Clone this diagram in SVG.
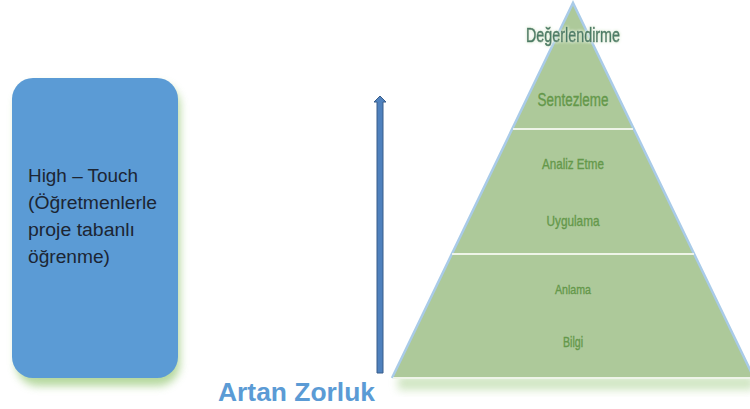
<svg xmlns="http://www.w3.org/2000/svg" width="750" height="409" viewBox="0 0 750 409">
  <defs>
    <style>
      .lvl { font-family: "Liberation Sans", Arial, sans-serif; fill: #64984a; stroke: #64984a; stroke-width: 0.35; text-anchor: middle; }
      .box-text { font-family: "Liberation Sans", Arial, sans-serif; font-size: 18px; fill: #1c2533; }
      .divider { stroke: #eef4e8; stroke-width: 2; }
    </style>
    <filter id="soft" x="-20%" y="-50%" width="140%" height="200%">
      <feGaussianBlur stdDeviation="4"/>
    </filter>
    <filter id="halo" x="-10%" y="-40%" width="120%" height="180%">
      <feGaussianBlur in="SourceAlpha" stdDeviation="1.6" result="b"/>
      <feFlood flood-color="#e2f0dc" result="c"/>
      <feComposite in="c" in2="b" operator="in" result="g"/>
      <feMerge><feMergeNode in="g"/><feMergeNode in="g"/><feMergeNode in="SourceGraphic"/></feMerge>
    </filter>
  </defs>

  <rect width="750" height="409" fill="#ffffff"/>

  <!-- left card -->
  <g id="high-touch">
    <rect x="16" y="84" width="164" height="302" rx="22" fill="#a9d18e" filter="url(#soft)" opacity="0.85"/>
    <rect x="12" y="78" width="166" height="300" rx="21" fill="#5b9bd5"/>
    <text class="box-text" x="28" y="182" textLength="110" lengthAdjust="spacingAndGlyphs">High – Touch</text>
    <text class="box-text" x="28" y="209" textLength="129" lengthAdjust="spacingAndGlyphs">(Öğretmenlerle</text>
    <text class="box-text" x="28" y="236" textLength="107" lengthAdjust="spacingAndGlyphs">proje tabanlı</text>
    <text class="box-text" x="28" y="263" textLength="82" lengthAdjust="spacingAndGlyphs">öğrenme)</text>
  </g>

  <!-- difficulty arrow -->
  <g id="connectors">
    <path d="M377,373 L377,102 L374,102 L380,96 L386,102 L383,102 L383,373 Z" fill="#4f81bd" stroke="#385d8a" stroke-width="1"/>
  </g>

  <g id="artan-zorluk">
    <text x="218" y="401" font-family="'Liberation Sans', Arial, sans-serif" font-size="26" font-weight="bold" fill="#5b9bd5" textLength="157" lengthAdjust="spacingAndGlyphs">Artan Zorluk</text>
  </g>

  <!-- pyramid -->
  <g id="pyramid">
    <rect x="398" y="376" width="356" height="14" fill="#c5e0b4" filter="url(#soft)" opacity="0.8"/>
    <polygon points="573,3 392,378 754,378" fill="#adc99a"/>
    <polyline points="392,378 573,3 754,378" fill="none" stroke="#a9cbe8" stroke-width="2.5"/>
    <line x1="393" y1="378" x2="754" y2="378" stroke="#eef4e8" stroke-width="2"/>
    <line class="divider" x1="513" y1="129" x2="633" y2="129"/>
    <line class="divider" x1="452" y1="254" x2="694" y2="254"/>
  </g>

  <g id="degerlendirme" filter="url(#halo)">
    <text class="lvl" x="573" y="42" font-size="21" style="fill:#4b7d66;stroke:#4b7d66;stroke-width:0.6" textLength="94" lengthAdjust="spacingAndGlyphs">Değerlendirme</text>
  </g>
  <g id="sentezleme">
    <text class="lvl" x="573" y="106" font-size="18" textLength="71" lengthAdjust="spacingAndGlyphs">Sentezleme</text>
  </g>
  <g id="analiz-etme">
    <text class="lvl" x="573" y="169" font-size="15" textLength="62" lengthAdjust="spacingAndGlyphs">Analiz Etme</text>
  </g>
  <g id="uygulama">
    <text class="lvl" x="573" y="226" font-size="15" textLength="53" lengthAdjust="spacingAndGlyphs">Uygulama</text>
  </g>
  <g id="anlama">
    <text class="lvl" x="573" y="294" font-size="13" textLength="36" lengthAdjust="spacingAndGlyphs">Anlama</text>
  </g>
  <g id="bilgi">
    <text class="lvl" x="573" y="347" font-size="14" textLength="20" lengthAdjust="spacingAndGlyphs">Bilgi</text>
  </g>
</svg>
